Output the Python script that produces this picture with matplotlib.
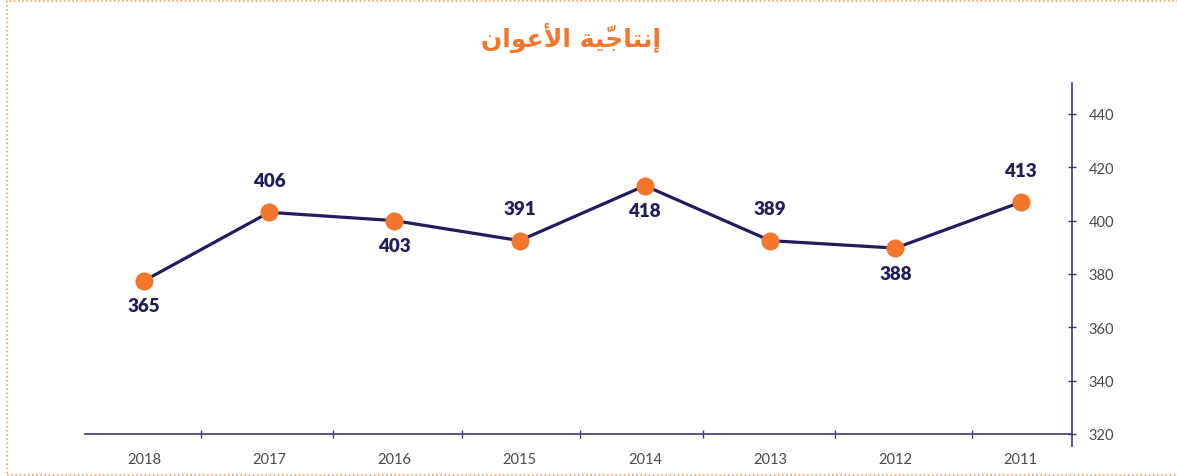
import matplotlib
matplotlib.use('Agg')
import matplotlib.pyplot as plt
from matplotlib.patches import Rectangle

plt.close('all')

# Data (the printed labels differ from the plotted heights)
years = ['2018', '2017', '2016', '2015', '2014', '2013', '2012', '2011']
plotted = [377.4, 403.1, 400.0, 392.5, 413.1, 392.5, 389.7, 406.9]
labels = [365, 406, 403, 391, 418, 389, 388, 413]
label_side = ['down', 'up', 'down', 'up', 'down', 'up', 'down', 'up']
y_ticks = [320, 340, 360, 380, 400, 420, 440]

# Title "إنتاجيّة الأعوان" written with presentation forms in visual order,
# since matplotlib does not shape Arabic text
title = '\uFEE5\uFE8D\uFEEE\uFECB\uFEF7\uFE8D \uFE94\uFEF4\u0651\uFE9F\uFE8E\uFE98\uFEE7\uFE87'

navy = '#221d5c'
axis_col = '#3c3a78'
orange = '#f2772c'

fig = plt.figure(figsize=(11.77, 4.77), dpi=100)
ax = fig.add_axes([85 / 1177, 30 / 477, (1072 - 85) / 1177, (447 - 84) / 477])

x = list(range(len(years)))
ax.plot(x, plotted, color=navy, lw=2.3, zorder=2)
ax.plot(x, plotted, 'o', color=orange, markersize=13, markeredgewidth=0, zorder=3)

for xi, yi, lab, side in zip(x, plotted, labels, label_side):
    dy = 23 if side == 'up' else -18
    ax.annotate(str(lab), (xi, yi), xytext=(0, dy), textcoords='offset points',
                ha='center', va='center', fontsize=13.5, fontweight='heavy',
                color=navy, family='Lato')

ax.set_xlim(-0.47, 7.41)
ax.set_ylim(315.5, 451.6)

# axes styling
for s in ['top', 'left']:
    ax.spines[s].set_visible(False)
ax.spines['bottom'].set_position(('data', 320))
ax.spines['bottom'].set_color(axis_col)
ax.spines['bottom'].set_linewidth(1.2)
ax.spines['right'].set_color(axis_col)
ax.spines['right'].set_linewidth(1.2)

ax.yaxis.tick_right()
ax.set_yticks(y_ticks)
ax.set_yticklabels([str(t) for t in y_ticks])
ax.tick_params(axis='y', direction='inout', length=6, width=1, color=axis_col,
               pad=9, labelsize=10.5, labelcolor='#4a4a4a')

ax.set_xticks(x)
ax.set_xticklabels(years)
ax.set_xticks([0.46, 1.51, 2.54, 3.48, 4.46, 5.52, 6.61], minor=True)
ax.tick_params(axis='x', which='major', length=0, pad=13, labelsize=10.5, labelcolor='#4a4a4a')
ax.tick_params(axis='x', which='minor', direction='inout', length=6, width=1, color=axis_col)

for lab in ax.get_xticklabels() + ax.get_yticklabels():
    lab.set_family('Lato')

fig.text(571 / 1177, 1 - 38 / 477, title, ha='center', va='center', fontsize=18,
         fontweight='bold', color=orange, family=['DejaVu Sans', 'Noto Sans'])

# dotted frame around the figure
fig.patches.append(Rectangle((7 / 1177, 1 / 477), 1.2, 1 - 3 / 477, transform=fig.transFigure,
                             fill=False, ec='#f5a060', lw=1.2, ls=(0, (1, 1.5))))

plt.savefig('out.png', dpi=100)
